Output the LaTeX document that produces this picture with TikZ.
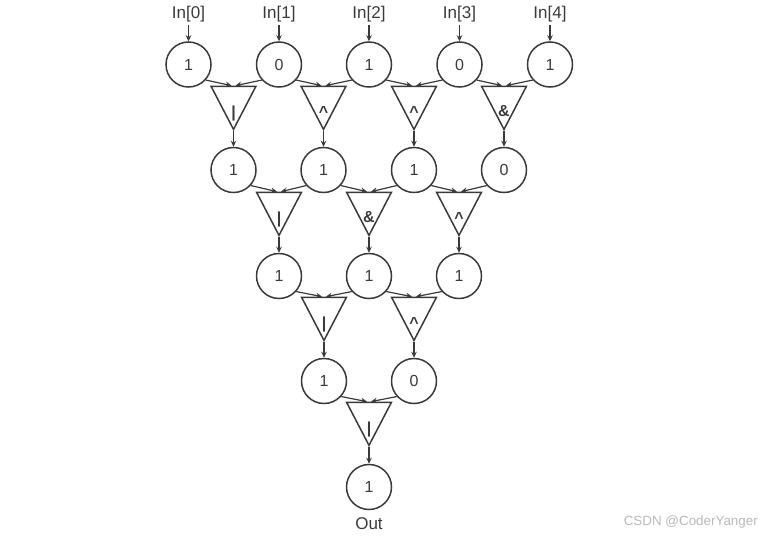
\documentclass[tikz,border=0pt]{standalone}
\usepackage{fontspec}
\setmainfont{Liberation Sans}
\usetikzlibrary{shapes.geometric,arrows.meta}
\definecolor{ink}{HTML}{3A3A3A}
\tikzset{
  every node/.style={text=ink},
  val/.style={circle,draw=ink,line width=1.5pt,minimum size=45pt,inner sep=0pt,font=\fontsize{16}{16}\selectfont},
  gate/.style={isosceles triangle,isosceles triangle apex angle=55,isosceles triangle stretches=false,shape border rotate=270,draw=ink,line width=1.5pt,minimum height=43pt,inner sep=0pt,anchor=apex},
  lab/.style={inner sep=0pt,font=\fontsize{17}{17}\selectfont},
  oplab/.style={inner sep=0pt,font=\fontsize{16}{16}\bfseries\selectfont},
  conn/.style={draw=ink,line width=1.2pt,-{Stealth[length=6pt,width=5.5pt]}},
  wmark/.style={font=\fontsize{13.4}{13.4}\selectfont,text=gray!55,inner sep=0pt}
}
\newcommand{\fanin}[3]{%
  \draw[conn] (#1.-42) -- ([xshift=-2pt]#3.lower side);
  \draw[conn] (#2.-138) -- ([xshift=2pt]#3.lower side);}
\begin{document}
\begin{tikzpicture}[x=1pt,y=-1pt]
\useasboundingbox (0,0) rectangle (765,535);
% input labels
\node[lab] (i0) at (188.5,14) {In[0]};
\node[lab] (i1) at (279,14) {In[1]};
\node[lab] (i2) at (369,14) {In[2]};
\node[lab] (i3) at (459.5,14) {In[3]};
\node[lab] (i4) at (550,14) {In[4]};
% row 1
\node[val] (a0) at (188.5,64.5) {1};
\node[val] (a1) at (279,64.5) {0};
\node[val] (a2) at (369,64.5) {1};
\node[val] (a3) at (459.5,64.5) {0};
\node[val] (a4) at (550,64.5) {1};
% gates 1
\node[gate] (g10) at (233.5,131) {};
\node[gate] (g11) at (323.5,131) {};
\node[gate] (g12) at (414,131) {};
\node[gate] (g13) at (504,131) {};
\node[oplab] (t10) at (233.5,113) {|};
\node[oplab] (t11) at (323.5,112) {\^{}};
\node[oplab] (t12) at (414,112) {\^{}};
\node[oplab] (t13) at (504,111) {\&};
% row 2
\node[val] (b0) at (233.5,170) {1};
\node[val] (b1) at (323.5,170) {1};
\node[val] (b2) at (414,170) {1};
\node[val] (b3) at (504,170) {0};
% gates 2
\node[gate] (g20) at (279,237) {};
\node[gate] (g21) at (369,237) {};
\node[gate] (g22) at (459,237) {};
\node[oplab] (t20) at (279,219) {|};
\node[oplab] (t21) at (369,217) {\&};
\node[oplab] (t22) at (459,218) {\^{}};
% row 3
\node[val] (c0) at (279,276) {1};
\node[val] (c1) at (369,276) {1};
\node[val] (c2) at (459,276) {1};
% gates 3
\node[gate] (g30) at (324,342) {};
\node[gate] (g31) at (414,342) {};
\node[oplab] (t30) at (324,324) {|};
\node[oplab] (t31) at (414,323) {\^{}};
% row 4
\node[val] (d0) at (324,381) {1};
\node[val] (d1) at (414,381) {0};
% gate 4
\node[gate] (g40) at (369,447) {};
\node[oplab] (t40) at (369,429) {|};
% row 5
\node[val] (e0) at (369,487) {1};
\node[lab] (out) at (369,524) {Out};
% watermark
\node[wmark,anchor=east] (wm) at (758,522) {CSDN @CoderYanger};
% connectors
\foreach \s/\t in {i0/a0,i1/a1,i2/a2,i3/a3,i4/a4}
  \draw[conn,shorten <=3pt] (\s.south) -- (\t.north);
\fanin{a0}{a1}{g10}
\fanin{a1}{a2}{g11}
\fanin{a2}{a3}{g12}
\fanin{a3}{a4}{g13}
\fanin{b0}{b1}{g20}
\fanin{b1}{b2}{g21}
\fanin{b2}{b3}{g22}
\fanin{c0}{c1}{g30}
\fanin{c1}{c2}{g31}
\fanin{d0}{d1}{g40}
\foreach \s/\t in {g10/b0,g11/b1,g12/b2,g13/b3,g20/c0,g21/c1,g22/c2,g30/d0,g31/d1,g40/e0}
  \draw[conn] (\s.apex) -- (\t.north);
\end{tikzpicture}
\end{document}
